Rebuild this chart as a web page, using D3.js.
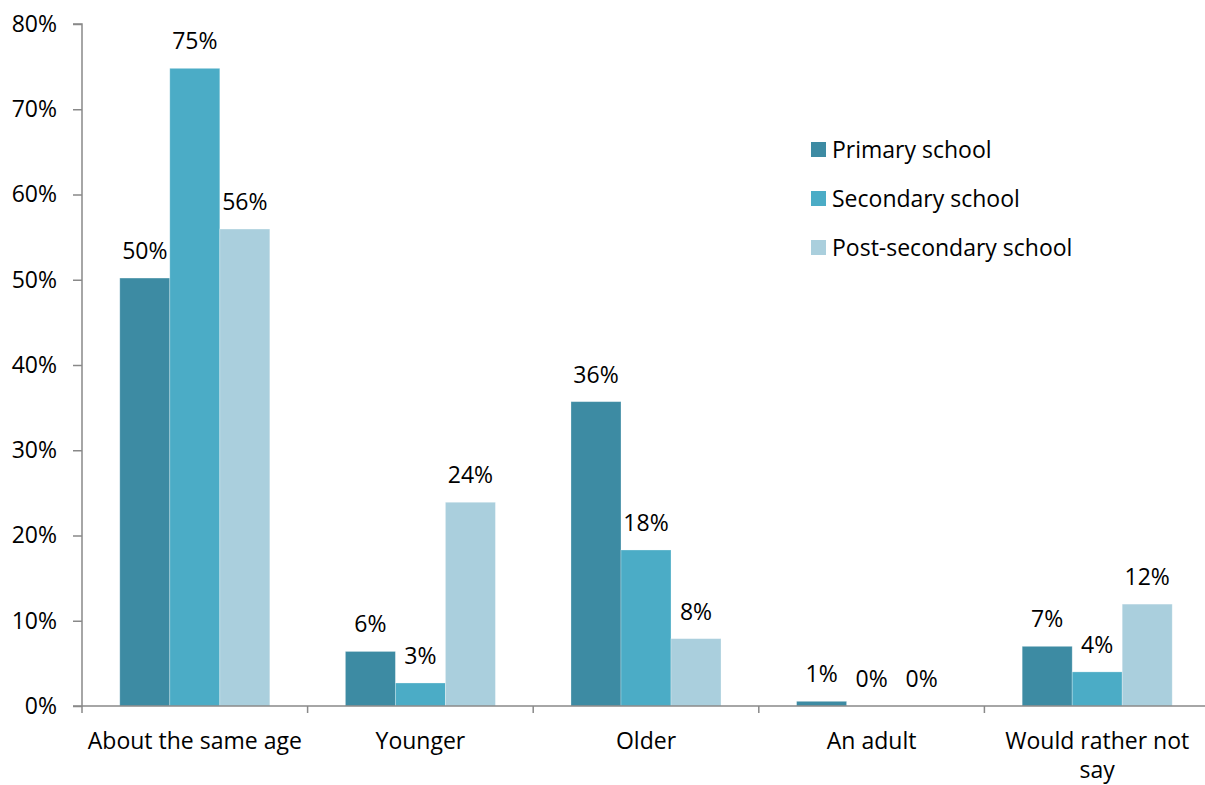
<!DOCTYPE html>
<html>
<head>
<meta charset="utf-8">
<script src="https://cdn.jsdelivr.net/npm/d3@7"></script>
<style>
  html, body { margin: 0; padding: 0; background: #fff; }
  svg { display: block; font-family: "Open Sans", "Noto Sans", sans-serif; }
</style>
</head>
<body>
<svg id="chart" width="1205" height="785"></svg>
<script>
// Answer categories along the x axis
const categories = ["About the same age", "Younger", "Older", "An adult", "Would rather not say"];
// Series (school level) names
const seriesNames = ["Primary school", "Secondary school", "Post-secondary school"];
// Percent of respondents per category, one array per series
const primaryValues = [50.2, 6.4, 35.7, 0.55, 7.0];
const secondaryValues = [74.8, 2.7, 18.3, 0, 4.0];
const postSecondaryValues = [55.95, 23.9, 7.9, 0, 11.95];
// Y axis tick values (percent)
const yTicks = [0, 10, 20, 30, 40, 50, 60, 70, 80];

const colors = ["#3d8ba3", "#4bacc6", "#aacfdd"];
const seriesValues = [primaryValues, secondaryValues, postSecondaryValues];

const svg = d3.select("#chart");
const x0 = 82, x1 = 1210, yTop = 24, yBottom = 706;

const x = d3.scaleBand().domain(categories).range([x0, x1]).paddingInner(0).paddingOuter(0);
const bw = x.bandwidth();
const groupWidth = bw * 0.665;
const xs = d3.scaleBand().domain(d3.range(seriesNames.length))
  .range([(bw - groupWidth) / 2, (bw + groupWidth) / 2]).padding(0);
const y = d3.scaleLinear().domain([0, 80]).range([yBottom, yTop]);

const axisColor = "#898989";
const fontSize = 23;

// Bars
const rows = categories.map((c, i) => ({
  cat: c,
  vals: seriesValues.map((s, k) => ({ k, v: s[i] }))
}));

const groups = svg.append("g").selectAll("g").data(rows).join("g")
  .attr("transform", d => `translate(${x(d.cat)},0)`);

groups.selectAll("rect").data(d => d.vals).join("rect")
  .attr("x", d => xs(d.k))
  .attr("width", xs.bandwidth())
  .attr("y", d => y(d.v))
  .attr("height", d => y(0) - y(d.v))
  .attr("fill", d => colors[d.k])
  .attr("stroke", "#ffffff")
  .attr("stroke-opacity", 0.35)
  .attr("stroke-width", 0.8);

// Value labels
groups.selectAll("text").data(d => d.vals).join("text")
  .attr("x", d => xs(d.k) + xs.bandwidth() / 2)
  .attr("y", d => y(d.v) - 19)
  .attr("text-anchor", "middle")
  .attr("font-size", fontSize)
  .attr("fill", "#000")
  .text(d => Math.round(d.v) + "%");

// Y axis
const yAxis = d3.axisLeft(y).tickValues(yTicks).tickSize(9).tickPadding(16)
  .tickFormat(d => d + "%");
const gy = svg.append("g").attr("transform", `translate(${x0},0)`).call(yAxis);
gy.select(".domain").attr("stroke", axisColor).attr("stroke-width", 1.5)
  .attr("d", `M-9,${yTop}H0V${yBottom}H-9`);
gy.selectAll(".tick line").attr("stroke", axisColor).attr("stroke-width", 1.5);
gy.selectAll(".tick text").attr("font-size", fontSize).attr("fill", "#000")
  .attr("font-family", "'Open Sans', 'Noto Sans', sans-serif");

// X axis: baseline, category separators, wrapped labels
const gx = svg.append("g").attr("transform", `translate(0,${yBottom})`);
gx.append("line").attr("x1", x0).attr("x2", x1).attr("y1", 0).attr("y2", 0)
  .attr("stroke", axisColor).attr("stroke-width", 1.5);
const boundaries = categories.map(c => x(c)).concat([x1]);
gx.selectAll("line.sep").data(boundaries).join("line").attr("class", "sep")
  .attr("x1", d => d).attr("x2", d => d).attr("y1", 0).attr("y2", 7)
  .attr("stroke", axisColor).attr("stroke-width", 1.5);

const labels = gx.selectAll("text.cat").data(categories).join("text").attr("class", "cat")
  .attr("x", d => x(d) + bw / 2)
  .attr("y", 43)
  .attr("text-anchor", "middle")
  .attr("font-size", fontSize)
  .attr("fill", "#000")
  .text(d => d);

// Wrap long category names to fit within the band
labels.each(function (d) {
  const t = d3.select(this);
  const words = d.split(/\s+/);
  const cx = +t.attr("x");
  t.text(null);
  let line = [];
  let tspan = t.append("tspan").attr("x", cx).attr("dy", 0);
  for (const w of words) {
    line.push(w);
    tspan.text(line.join(" "));
    if (tspan.node().getComputedTextLength() > bw - 5 && line.length > 1) {
      line.pop();
      tspan.text(line.join(" "));
      line = [w];
      tspan = t.append("tspan").attr("x", cx).attr("dy", 29).text(w);
    }
  }
});

// Legend
const legend = svg.append("g").attr("transform", "translate(811,142)");
const li = legend.selectAll("g").data(seriesNames).join("g")
  .attr("transform", (d, i) => `translate(0,${i * 49})`);
li.append("rect").attr("width", 15).attr("height", 15).attr("fill", (d, i) => colors[i]);
li.append("text").attr("x", 21).attr("y", 7.5).attr("dy", "0.35em")
  .attr("font-size", fontSize).attr("fill", "#000").text(d => d);
</script>
</body>
</html>
